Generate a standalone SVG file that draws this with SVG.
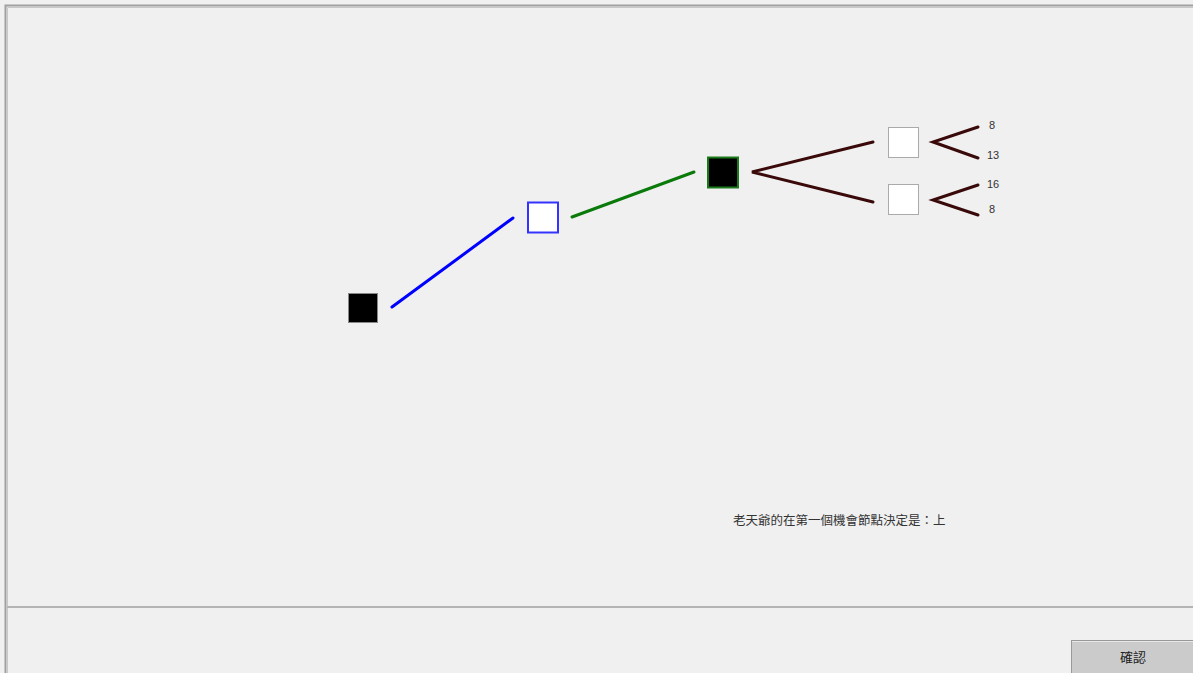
<svg xmlns="http://www.w3.org/2000/svg" width="1193" height="673" viewBox="0 0 1193 673">
<style>
.lbl{font-family:"Liberation Sans",Arial,sans-serif;font-size:11px;fill:#333}
.cjk{font-family:"Liberation Sans","Noto Sans CJK TC",sans-serif;font-size:12.5px;fill:#333}
.br{stroke:#3a0a0a;stroke-width:3;stroke-linecap:round;fill:none}
.leaf{fill:#fff;stroke:#aaa;stroke-width:1}
</style>
<rect x="0" y="0" width="1193" height="673" fill="#f0f0f0"/>
<g id="frame">
<path d="M5.5 673 V5.5 H1193" fill="none" stroke="#a0a0a0" stroke-width="2"/>
<path d="M7.5 673 V7.5 H1193" fill="none" stroke="#c8c8c8" stroke-width="1"/>
<line x1="7" y1="607" x2="1193" y2="607" stroke="#b4b4b4" stroke-width="2"/>
</g>
<g id="connectors">
<line x1="392" y1="307" x2="513" y2="218" stroke="#0000ff" stroke-width="3" stroke-linecap="round"/>
<line x1="572" y1="217" x2="694" y2="172" stroke="#0a7a0a" stroke-width="3" stroke-linecap="round"/>
<polyline class="br" points="873,142 752,172 873,202"/>
<polyline class="br" points="978,127 933,142 978,158"/>
<polyline class="br" points="978,185 933,200 978,215"/>
</g>
<g id="node-root"><rect x="348.5" y="293.5" width="29" height="29" fill="#000" stroke="#888" stroke-width="1"/></g>
<g id="node-chance"><rect x="528" y="202.5" width="30" height="30" fill="#fff" stroke="#3333ff" stroke-width="2"/></g>
<g id="node-decision"><rect x="708" y="157.5" width="30" height="30" fill="#000" stroke="#1a7a1a" stroke-width="2"/></g>
<g id="node-up"><rect class="leaf" x="888.5" y="127.5" width="30" height="30"/></g>
<g id="node-down"><rect class="leaf" x="888.5" y="184.5" width="30" height="30"/></g>
<g id="payoffs">
<text class="lbl" x="992" y="129" text-anchor="middle">8</text>
<text class="lbl" x="993" y="159" text-anchor="middle">13</text>
<text class="lbl" x="993" y="188" text-anchor="middle">16</text>
<text class="lbl" x="992" y="213" text-anchor="middle">8</text>
</g>
<g id="status"><text class="cjk" x="733" y="525">老天爺的在第一個機會節點決定是：上</text></g>
<g id="button">
<rect x="1071.5" y="640.5" width="125" height="40" fill="#cbcbcb" stroke="#999" stroke-width="1"/>
<line x1="1072" y1="641.5" x2="1193" y2="641.5" stroke="#e8e8e8"/>
<text x="1133" y="662" text-anchor="middle" style="font-family:'Noto Sans CJK TC',sans-serif;font-size:13px;fill:#222">確認</text>
</g>
</svg>
